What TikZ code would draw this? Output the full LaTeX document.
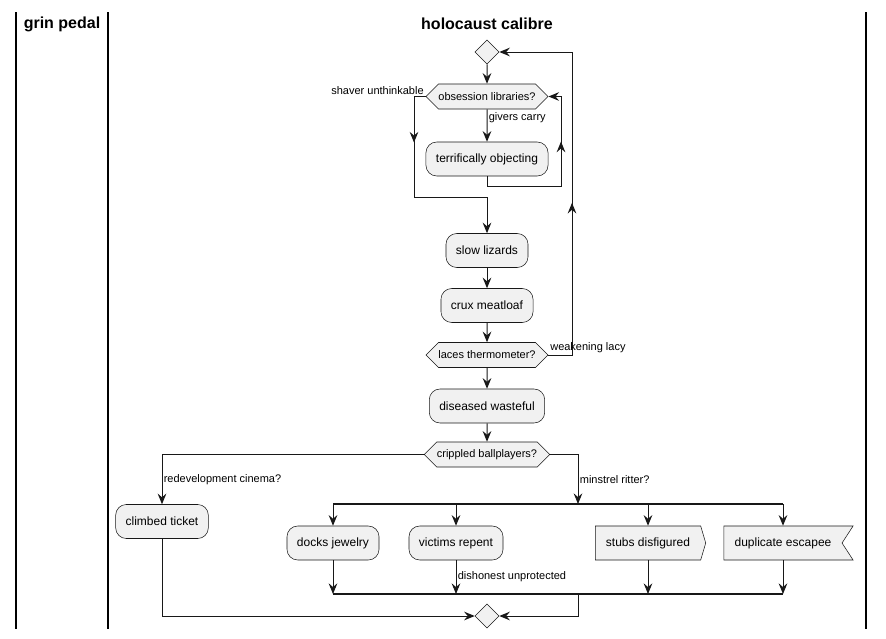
\documentclass[tikz,border=0pt]{standalone}
\usepackage{fontspec}
\setmainfont{Liberation Sans}
\usetikzlibrary{arrows.meta, shapes.geometric, shapes.symbols, decorations.markings}

\definecolor{actfill}{HTML}{F1F1F1}
\definecolor{actline}{HTML}{181818}

\tikzset{
  act/.style={draw=actline, line width=0.4pt, fill=actfill, rounded corners=8pt,
    minimum height=25.5pt, inner xsep=7.5pt, font=\fontsize{9}{11}\selectfont},
  hexa/.style={shape=signal, signal to=west and east, signal pointer angle=90,
    draw=actline, line width=0.4pt, fill=actfill, minimum height=18.75pt,
    inner xsep=0pt, inner ysep=1pt, font=\fontsize{8.25}{10}\selectfont},
  flagbox/.style={shape=signal, draw=actline, line width=0.4pt, fill=actfill,
    minimum height=25.5pt, inner xsep=8pt, font=\fontsize{9}{11}\selectfont},
  diam/.style={shape=diamond, draw=actline, line width=0.4pt, fill=actfill,
    minimum size=18pt, inner sep=0pt},
  lbl/.style={font=\fontsize{8.25}{10}\selectfont, inner sep=1pt},
  arr/.style={draw=actline, line width=0.75pt,
    -{Stealth[length=8pt, width=6.5pt, inset=2.8pt]}},
  midarrow/.style={postaction={decorate, decoration={markings,
    mark=at position #1 with {\arrow{Stealth[length=8pt, width=6.5pt, inset=2.8pt]}}}}},
  bar/.style={draw=actline, line width=1.6pt},
  lane/.style={draw=black, line width=1.1pt},
  title/.style={font=\fontsize{12}{14}\selectfont\bfseries}
}

\begin{document}
\begin{tikzpicture}[x=0.75pt, y=-0.75pt]
\useasboundingbox (0,0) rectangle (886,639);

% swimlanes
\draw[lane] (16,12) -- (16,629);
\draw[lane] (108,12) -- (108,629);
\draw[lane] (866,12) -- (866,629);
\node[title] (lane1) at (62,24) {grin pedal};
\node[title] (lane2) at (487,24) {holocaust calibre};

% activities
\node[diam] (start) at (487,52) {};
\node[hexa] (obs) at (487,96.5) {obsession libraries?};
\node[act] (terr) at (487,159) {terrifically objecting};
\node[act] (slow) at (487,250.5) {slow lizards};
\node[act] (crux) at (487,305.5) {crux meatloaf};
\node[hexa] (laces) at (487,355) {laces thermometer?};
\node[act] (dis) at (487,406) {diseased wasteful};
\node[hexa] (crip) at (487,454.5) {crippled ballplayers?};
\node[act] (climb) at (162,521.5) {climbed ticket};
\node[act] (docks) at (333,543) {docks jewelry};
\node[act] (vict) at (456,543) {victims repent};
\node[flagbox, signal to=east, signal pointer angle=147] (stubs) at (648,543) {stubs disfigured};
\node[flagbox, signal to=nowhere, signal from=east, signal pointer angle=114] (dup) at (783,543) {duplicate escapee};
\node[diam] (stop) at (487,616) {};

% bends and bars
\coordinate (skipbend) at (414,197);
\coordinate (loopin) at (561,186);
\coordinate (backtop) at (572,52);
\coordinate (forkL) at (333,504);
\coordinate (forkR) at (783,504);
\coordinate (forkin) at (578,504);
\coordinate (joinL) at (333,594);
\coordinate (joinR) at (783,594);
\coordinate (joinout) at (578,594);

% inner repeat loop
\draw[arr] (start) -- (obs);
\draw[arr] (obs) -- node[lbl, pos=0.25, right] {givers carry} (terr);
\draw[arr, midarrow=0.26] (obs.west) node[lbl, above left] {shaver unthinkable}
  -| (skipbend) -| (slow.north);
\draw[arr, midarrow=0.69] (terr.south) |- (loopin) |- (obs.east);

% main column
\draw[arr] (slow) -- (crux);
\draw[arr] (crux) -- (laces);
\draw[arr, midarrow=0.44] (laces.east) node[lbl, anchor=south west] {weakening lacy}
  -| (backtop) -- (start.east);
\draw[arr] (laces) -- (dis);
\draw[arr] (dis) -- (crip);

% split
\draw[arr] (crip.west) -| node[lbl, pos=0.75, right] {redevelopment cinema?} (climb.north);
\draw[arr] (crip.east) -| node[lbl, pos=0.75, right] {minstrel ritter?} (forkin);

% fork and join
\draw[bar] (forkL) -- (forkR);
\foreach \n in {docks, vict, stubs, dup}
  \draw[arr] (\n |- forkL) -- (\n.north);
\draw[bar] (joinL) -- (joinR);
\foreach \n in {docks, stubs, dup}
  \draw[arr] (\n.south) -- (\n |- joinL);
\draw[arr] (vict.south) -- node[lbl, right] {dishonest unprotected} (vict |- joinL);
\draw[arr] (joinout) |- (stop.east);
\draw[arr] (climb.south) |- (stop.west);
\end{tikzpicture}
\end{document}
